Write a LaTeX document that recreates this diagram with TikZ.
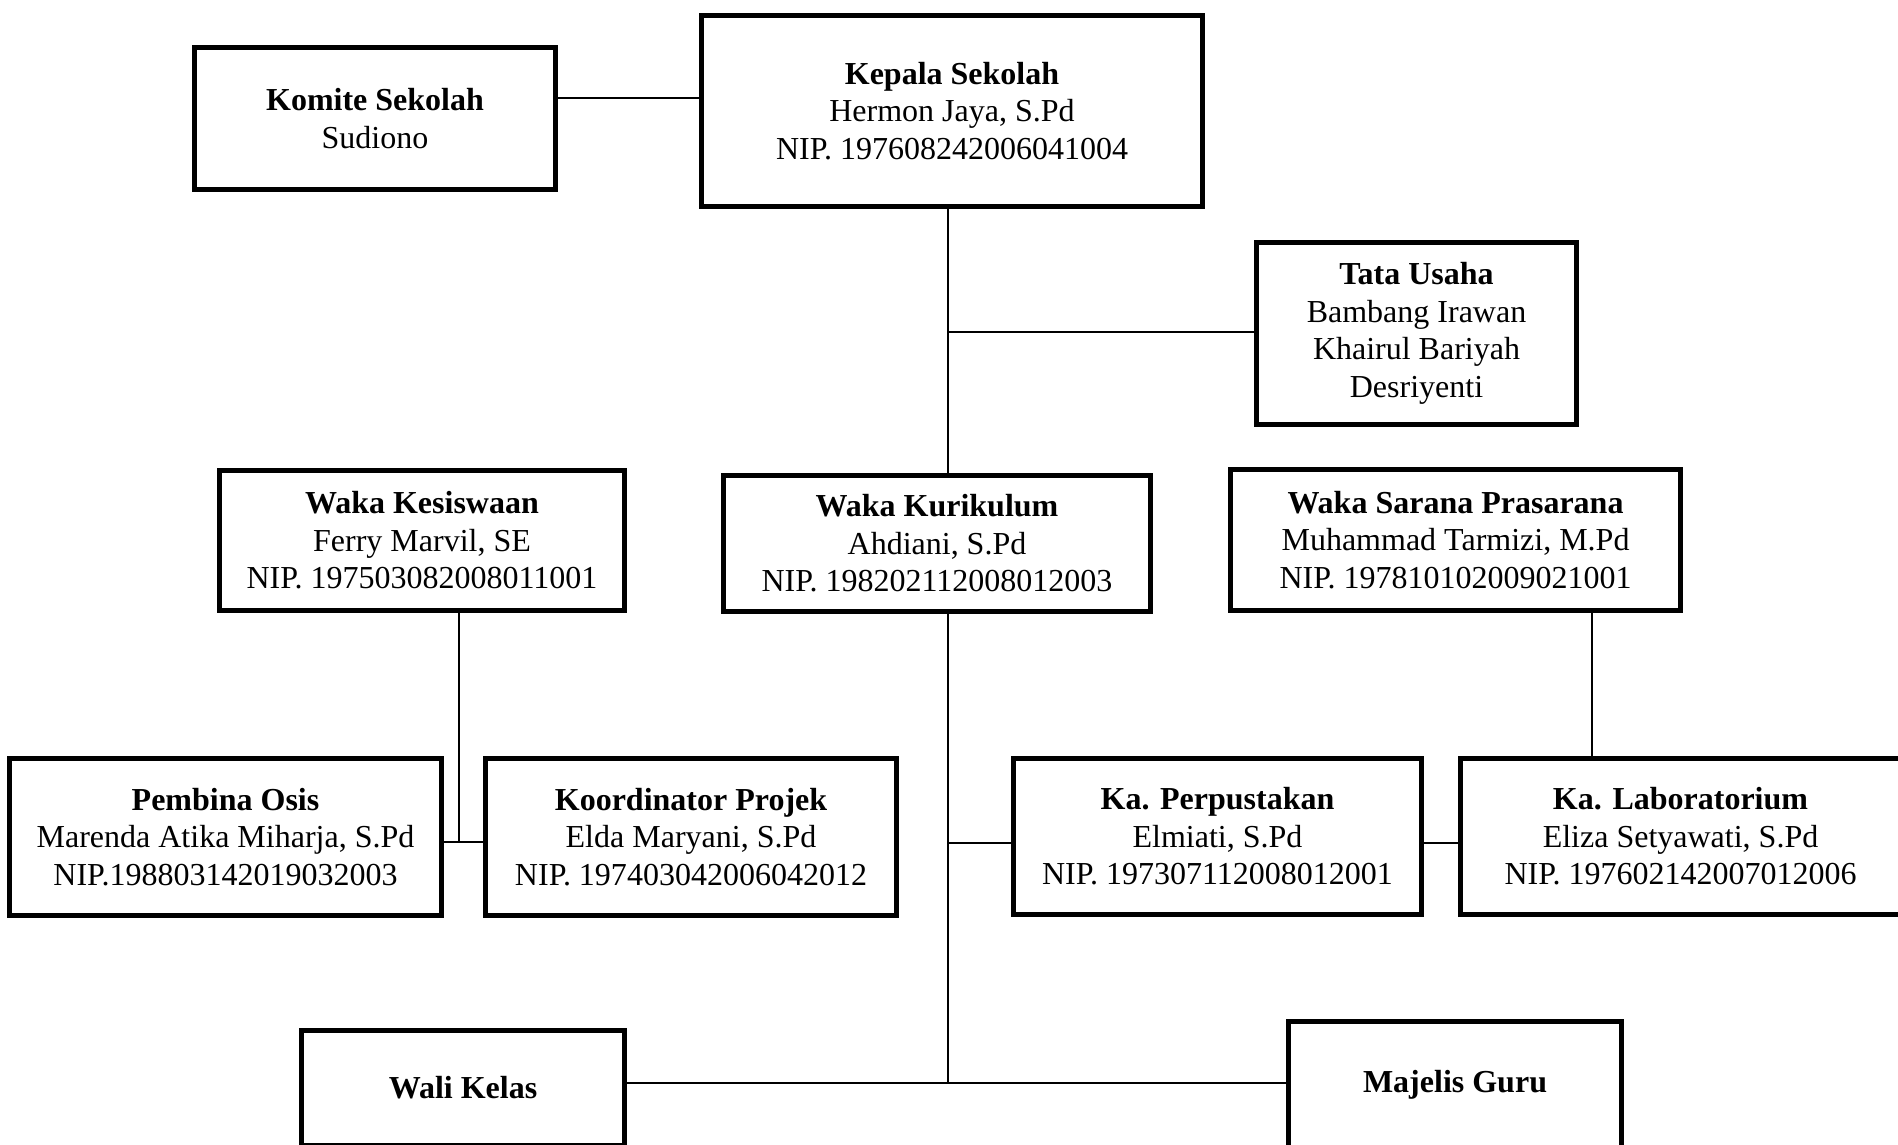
\documentclass[tikz,border=0pt]{standalone}
\usepackage{fontspec}
\setmainfont{Liberation Serif}
\begin{document}
\begin{tikzpicture}[x=0.01cm,y=-0.01cm]
            \tikzstyle{every node}=[draw,line width=1.42pt,align=center,inner sep=0pt,font=\fontsize{9.1pt}{10.65pt}\selectfont]
            \tikzstyle{garis}=[line width=0.6pt]
            \useasboundingbox (0,0) rectangle (1898,1144);
            \clip (0,0) rectangle (1898,1144);
            \draw (375,118.5) node [minimum width=3.61cm,minimum height=1.42cm] (komite) {\textbf{Komite Sekolah}\\Sudiono};
            \draw (952,111) node [minimum width=5.01cm,minimum height=1.91cm] (kepsek) {\textbf{Kepala Sekolah}\\Hermon Jaya, S.Pd\\NIP. 197608242006041004};
            \draw (1416.5,333.5) node [minimum width=3.20cm,minimum height=1.82cm] (tu) {\textbf{Tata Usaha}\\Bambang Irawan\\Khairul Bariyah\\Desriyenti};
            \draw (422,540.5) node [minimum width=4.05cm,minimum height=1.40cm] (kesiswaan) {\textbf{Waka Kesiswaan}\\Ferry Marvil, SE\\NIP. 197503082008011001};
            \draw (937,543.5) node [minimum width=4.27cm,minimum height=1.36cm] (kurikulum) {\textbf{Waka Kurikulum}\\Ahdiani, S.Pd\\NIP. 198202112008012003};
            \draw (1455.5,540) node [minimum width=4.50cm,minimum height=1.41cm] (sarpras) {\textbf{Waka Sarana Prasarana}\\Muhammad Tarmizi, M.Pd\\NIP. 197810102009021001};
            \draw (225.5,837) node [minimum width=4.32cm,minimum height=1.57cm] (osis) {\textbf{Pembina Osis}\\Marenda Atika Miharja, S.Pd\\NIP.198803142019032003};
            \draw (691,837) node [minimum width=4.11cm,minimum height=1.57cm] (projek) {\textbf{Koordinator Projek}\\Elda Maryani, S.Pd\\NIP. 197403042006042012};
            \draw (1217.5,836.5) node [minimum width=4.08cm,minimum height=1.56cm] (pustaka) {\textbf{Ka. Perpustakan}\\Elmiati, S.Pd\\NIP. 197307112008012001};
            \draw (1680.5,836.5) node [minimum width=4.40cm,minimum height=1.56cm] (lab) {\textbf{Ka. Laboratorium}\\Eliza Setyawati, S.Pd\\NIP. 197602142007012006};
            \draw (463,1088) node [minimum width=3.23cm,minimum height=1.15cm] (walikelas) {\textbf{Wali Kelas}};
            \draw (1455,1085) node [minimum width=3.33cm,minimum height=1.27cm] (majelis) {\textbf{Majelis Guru}};
            \coordinate (a) at (948,98);
            \coordinate (b) at (948,332);
            \coordinate (c) at (459,842);
            \coordinate (d) at (948,843);
            \coordinate (e) at (948,1083);
            \coordinate (f) at (1592,613);
            \draw[garis] (komite.east |- a) -- (kepsek.west |- a);
            \draw[garis] (kepsek.south -| a) -- (kurikulum.north -| a);
            \draw[garis] (b) -- (tu.west |- b);
            \draw[garis] (kesiswaan.south -| c) -- (c);
            \draw[garis] (osis.east |- c) -- (projek.west |- c);
            \draw[garis] (kurikulum.south -| d) -- (e);
            \draw[garis] (d) -- (pustaka.west |- d);
            \draw[garis] (pustaka.east |- d) -- (lab.west |- d);
            \draw[garis] (sarpras.south -| f) -- (lab.north -| f);
            \draw[garis] (walikelas.east |- e) -- (majelis.west |- e);
        \end{tikzpicture}
\end{document}
